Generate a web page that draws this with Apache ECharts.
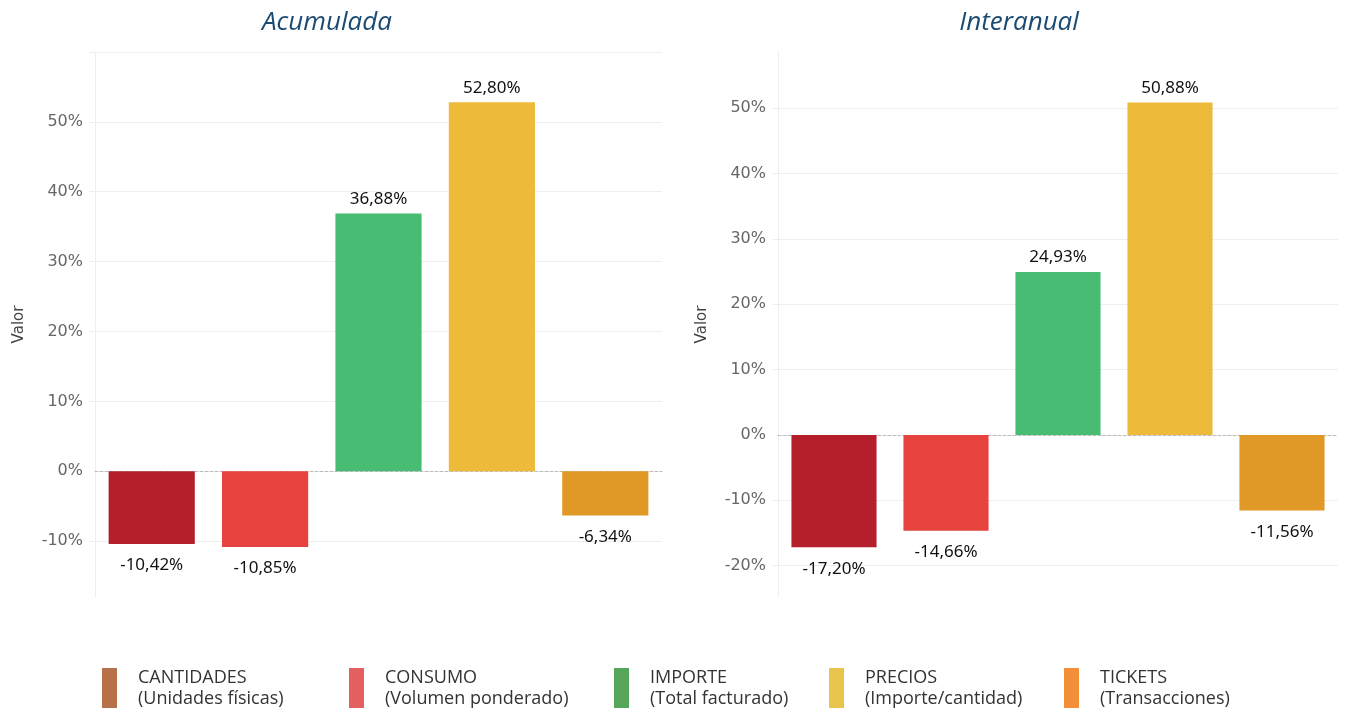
<!DOCTYPE html>
<html>
<head>
<meta charset="utf-8">
<title>Acumulada / Interanual</title>
<script src="https://cdn.jsdelivr.net/npm/echarts@6/dist/echarts.min.js"></script>
<style>
    html, body { margin: 0; padding: 0; background: #fff; }
    #chart { width: 1346px; height: 711px; }
</style>
</head>
<body>
<div id="chart"></div>
<script>
// datos
let categorias = ['CANTIDADES', 'CONSUMO', 'IMPORTE', 'PRECIOS', 'TICKETS'];
let acumulada = [-10.42, -10.85, 36.88, 52.80, -6.34];
let interanual = [-17.20, -14.66, 24.93, 50.88, -11.56];
let coloresBarra = ['#B51F2B', '#E6433E', '#49BC73', '#EDBA3A', '#E09826'];
let leyendaNombres = [
    'CANTIDADES\n(Unidades físicas)',
    'CONSUMO\n(Volumen ponderado)',
    'IMPORTE\n(Total facturado)',
    'PRECIOS\n(Importe/cantidad)',
    'TICKETS\n(Transacciones)'
];
let leyendaColores = ['#B87048', '#E46060', '#56A55A', '#E9C54E', '#F38F36'];
let leyendaX = [102, 349, 614, 829, 1064];

// ticks de cada eje
let ticksAcum = [-10, 10, 20, 30, 40, 50, 60];
let labelsAcum = [-10, 0, 10, 20, 30, 40, 50];
let ticksInter = [-20, -10, 10, 20, 30, 40, 50];
let labelsInter = [-20, -10, 0, 10, 20, 30, 40, 50];

function fmt(v) {
    return v.toFixed(2).replace('.', ',') + '%';
}

function barData(values) {
    return values.map(function (v, i) {
        return {
            value: v,
            itemStyle: { color: coloresBarra[i] },
            label: {
                position: v < 0 ? 'bottom' : 'top',
                distance: v < 0 ? 13 : 6
            }
        };
    });
}

function yAxis(idx, min, max, ticks, labels) {
    return {
        type: 'value',
        gridIndex: idx,
        min: min,
        max: max,
        name: 'Valor',
        nameLocation: 'middle',
        nameGap: 68,
        nameTextStyle: { color: '#444', fontSize: 15, fontFamily: 'DejaVu Sans' },
        axisLine: { show: true, lineStyle: { color: '#eeeeee' } },
        axisTick: { show: true, length: 6, lineStyle: { color: '#eeeeee' }, customValues: ticks },
        splitLine: { show: true, lineStyle: { color: '#eeeeee' } },
        axisLabel: {
            color: '#666',
            fontSize: 16,
            fontFamily: 'DejaVu Sans',
            margin: 12,
            padding: [3, 0, 0, 0],
            customValues: labels,
            formatter: function (v) { return v + '%'; }
        }
    };
}

function xAxis(idx) {
    return {
        type: 'category',
        gridIndex: idx,
        data: categorias,
        axisLine: { show: true, onZero: true, lineStyle: { color: '#bbbbbb', type: [3, 2] } },
        axisTick: { show: false },
        axisLabel: { show: false },
        splitLine: { show: false }
    };
}

let labelComun = {
    show: true,
    color: '#111',
    fontSize: 17,
    fontFamily: 'Noto Sans',
    formatter: function (p) { return fmt(p.value); }
};

let series = [
    {
        name: 'Acumulada', type: 'bar', xAxisIndex: 0, yAxisIndex: 0,
        barCategoryGap: '24%', label: labelComun, data: barData(acumulada)
    },
    {
        name: 'Interanual', type: 'bar', xAxisIndex: 1, yAxisIndex: 1,
        barCategoryGap: '24%', label: labelComun, data: barData(interanual)
    }
];

// series vacias solo para la leyenda (en un grid oculto)
let legends = [];
leyendaNombres.forEach(function (n, i) {
    series.push({
        name: n, type: 'bar', xAxisIndex: 2, yAxisIndex: 2, data: [],
        itemStyle: { color: leyendaColores[i] }
    });
    legends.push({
        data: [n],
        left: leyendaX[i],
        top: 667,
        padding: 0,
        icon: 'rect',
        itemWidth: 15,
        itemHeight: 40,
        selectedMode: false,
        textStyle: {
            color: '#333',
            fontSize: 18,
            lineHeight: 21,
            fontFamily: 'Open Sans',
            padding: [0, 0, 0, 16]
        }
    });
});

let tituloStyle = { color: '#1B4A72', fontSize: 26, fontStyle: 'italic', fontWeight: 'normal', fontFamily: 'Open Sans' };

let chart = echarts.init(document.getElementById('chart'));
chart.setOption({
    animation: false,
    title: [
        { text: 'Acumulada', left: 322, top: 5, textAlign: 'center', textStyle: tituloStyle },
        { text: 'Interanual', left: 1014, top: 5, textAlign: 'center', textStyle: tituloStyle }
    ],
    grid: [
        { left: 95, right: 684, top: 52, bottom: 114 },
        { left: 778, right: 8, top: 52, bottom: 114 },
        { left: -100, top: -100, width: 10, height: 10, show: false }
    ],
    xAxis: [xAxis(0), xAxis(1), { type: 'category', gridIndex: 2, show: false }],
    yAxis: [
        yAxis(0, -18, 60, ticksAcum, labelsAcum),
        yAxis(1, -24.8, 58.6, ticksInter, labelsInter),
        { type: 'value', gridIndex: 2, show: false }
    ],
    legend: legends,
    series: series
});
</script>
</body>
</html>
